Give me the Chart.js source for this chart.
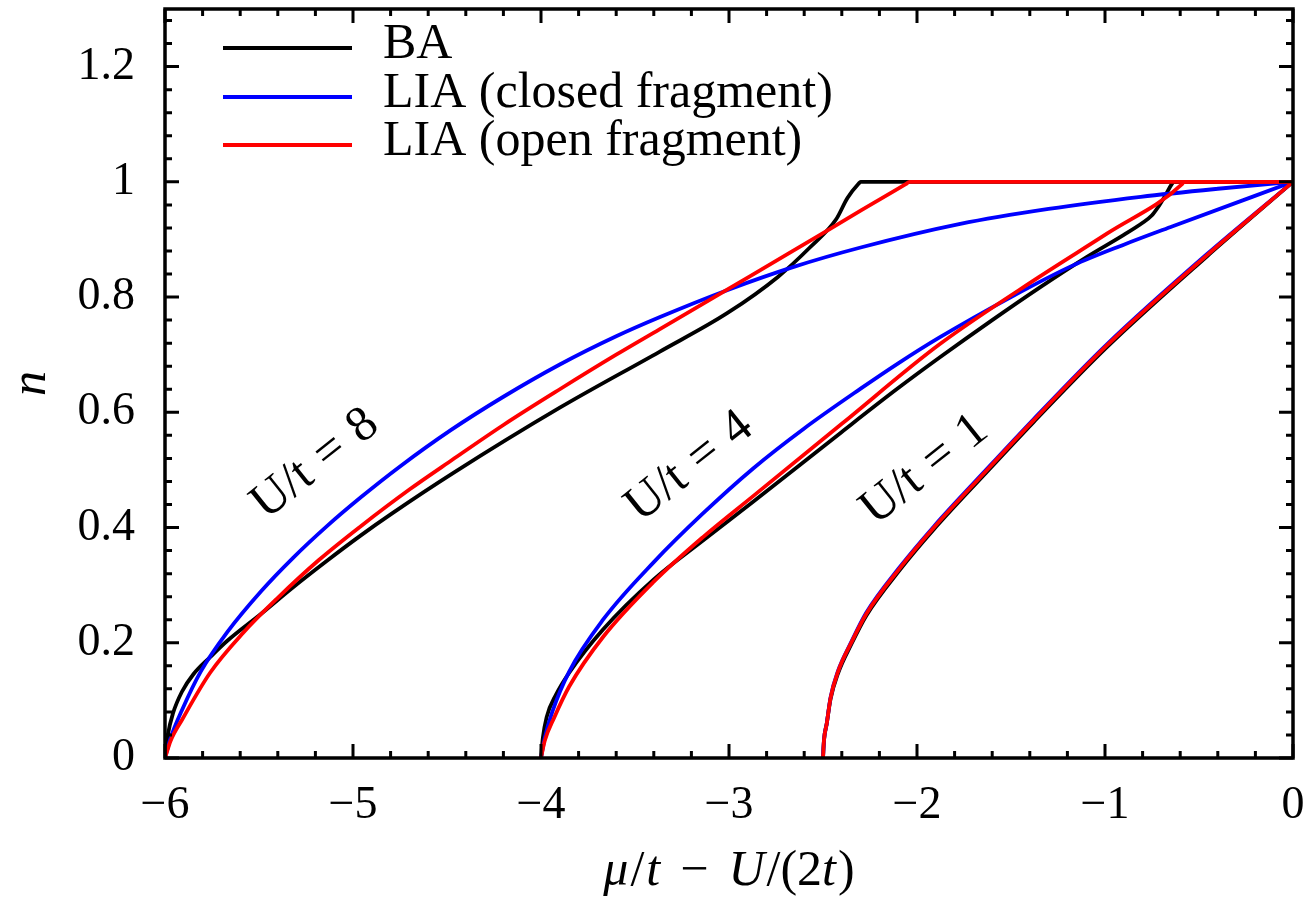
<!DOCTYPE html>
<html>
<head>
<meta charset="utf-8">
<script src="https://cdn.jsdelivr.net/npm/chart.js@4.4.1/dist/chart.umd.min.js"></script>
<style>
html, body { margin: 0; background: #fff; }
#wrap { width: 1306px; height: 903px; }
</style>
</head>
<body>
<div id="wrap"><canvas id="myChart"></canvas></div>
<script>
// curves, [mu/t - U/(2t), n]
var ba8 = [[-6, 0], [-5.985, 0.04], [-5.957, 0.078], [-5.91, 0.115], [-5.85, 0.145], [-5.76, 0.175], [-5.67, 0.203],
  [-5.49, 0.25], [-5.32, 0.296], [-5.14, 0.342], [-4.96, 0.386], [-4.79, 0.425], [-4.47, 0.494], [-3.9, 0.608],
  [-3.37, 0.705], [-3.01, 0.772], [-2.74, 0.835], [-2.57, 0.886], [-2.43, 0.935], [-2.37, 0.972], [-2.31, 0.997],
  [-2.3, 1], [0, 1]];
var closed8 = [[-6, 0], [-5.97, 0.035], [-5.91, 0.083], [-5.81, 0.15], [-5.67, 0.218], [-5.49, 0.289], [-5.32, 0.347],
  [-5.14, 0.402], [-4.96, 0.452], [-4.75, 0.506], [-4.48, 0.569], [-4.2, 0.627], [-3.9, 0.683], [-3.6, 0.732],
  [-3.37, 0.765], [-3.01, 0.812], [-2.66, 0.852], [-2.3, 0.886], [-1.77, 0.927], [-1.3, 0.953], [-0.81, 0.974],
  [-0.4, 0.988], [0, 1]];
var open8 = [[-6, 0], [-5.97, 0.03], [-5.91, 0.066], [-5.76, 0.148], [-5.585, 0.217], [-5.4, 0.278], [-5.18, 0.344],
  [-4.96, 0.402], [-4.7, 0.466], [-4.47, 0.518], [-4.2, 0.578], [-3.9, 0.64], [-3.6, 0.7], [-3.37, 0.744],
  [-3.01, 0.813], [-2.66, 0.88], [-2.3, 0.95], [-2.06, 0.996], [-2.04, 1], [0, 1]];

var ba4 = [[-4, 0], [-3.99, 0.035], [-3.97, 0.071], [-3.92, 0.11], [-3.85, 0.148], [-3.67, 0.223], [-3.4, 0.31],
  [-3.14, 0.377], [-2.87, 0.445], [-2.4, 0.566], [-2.1, 0.642], [-1.88, 0.695], [-1.6, 0.76], [-1.35, 0.816],
  [-1.1, 0.869], [-0.9, 0.908], [-0.8, 0.929], [-0.75, 0.942], [-0.72, 0.955], [-0.68, 0.976], [-0.645, 0.996],
  [-0.635, 1], [0, 1]];
var closed4 = [[-4, 0], [-3.98, 0.035], [-3.94, 0.08], [-3.85, 0.15], [-3.67, 0.24], [-3.4, 0.34], [-3.14, 0.424],
  [-2.87, 0.503], [-2.6, 0.572], [-2.3, 0.641], [-2.1, 0.685], [-1.88, 0.73], [-1.5, 0.8], [-1.17, 0.855],
  [-0.9, 0.891], [-0.64, 0.923], [0, 1]];
var open4 = [[-4, 0], [-3.98, 0.03], [-3.93, 0.07], [-3.85, 0.124], [-3.67, 0.21], [-3.4, 0.306], [-3.14, 0.383],
  [-2.87, 0.455], [-2.4, 0.58], [-1.88, 0.718], [-1.35, 0.835], [-0.99, 0.91], [-0.59, 0.996], [-0.58, 1], [0, 1]];

var ba1 = [[-2.5, 0], [-2.495, 0.03], [-2.48, 0.06], [-2.46, 0.102], [-2.42, 0.147], [-2.35, 0.197], [-2.27, 0.247],
  [-2.09, 0.327], [-1.91, 0.397], [-1.65, 0.489], [-1.38, 0.583], [-0.99, 0.713], [-0.46, 0.87], [0, 1]];
var closed1 = [[-2.5, 0], [-2.495, 0.03], [-2.48, 0.06], [-2.46, 0.105], [-2.42, 0.151], [-2.35, 0.201], [-2.27, 0.252],
  [-2.09, 0.332], [-1.91, 0.402], [-1.65, 0.494], [-1.38, 0.588], [-0.99, 0.718], [-0.46, 0.874], [0, 1]];
var open1 = [[-2.5, 0], [-2.495, 0.03], [-2.48, 0.06], [-2.46, 0.104], [-2.42, 0.15], [-2.35, 0.2], [-2.27, 0.25],
  [-2.09, 0.33], [-1.91, 0.4], [-1.65, 0.492], [-1.38, 0.586], [-0.99, 0.716], [-0.46, 0.872], [0, 1]];

var seriesNames = ['BA', 'LIA (closed fragment)', 'LIA (open fragment)'];
var seriesColors = ['#000000', '#0000ff', '#ff0000'];
var xTicks = [-6, -5, -4, -3, -2, -1, 0];
var yTicks = [0, 0.2, 0.4, 0.6, 0.8, 1, 1.2];
var curveLabels = ['8', '4', '1'];

var serif = "'Liberation Serif', 'DejaVu Serif', serif";

var curves = [
  [0, ba8], [0, ba4], [0, ba1],
  [1, closed8], [1, closed4], [1, closed1],
  [2, open8], [2, open4], [2, open1]
];

var datasets = curves.map(function (c) {
  return {
    label: seriesNames[c[0]],
    data: c[1].map(function (p) { return { x: p[0], y: p[1] }; }),
    borderColor: seriesColors[c[0]],
    backgroundColor: seriesColors[c[0]],
    borderWidth: 3.8,
    pointRadius: 0,
    fill: false,
    cubicInterpolationMode: 'monotone',
    order: 2 - c[0]
  };
});

// inward ticks on all four sides + frame
var frame = {
  id: 'frame',
  afterDatasetsDraw: function (chart) {
    var ctx = chart.ctx, a = chart.chartArea, x = chart.scales.x, y = chart.scales.y;
    ctx.save();
    ctx.strokeStyle = '#000';
    ctx.lineWidth = 3;
    ctx.beginPath();
    for (var i = 0; i <= 30; i++) {
      var px = x.getPixelForValue(-6 + i * 0.2);
      var len = i % 5 === 0 ? 14 : 7;
      ctx.moveTo(px, a.bottom); ctx.lineTo(px, a.bottom - len);
      ctx.moveTo(px, a.top); ctx.lineTo(px, a.top + len);
    }
    for (var j = 0; j <= 32; j++) {
      var py = y.getPixelForValue(j * 0.04);
      if (py < a.top) continue;
      var l2 = j % 5 === 0 ? 14 : 7;
      ctx.moveTo(a.left, py); ctx.lineTo(a.left + l2, py);
      ctx.moveTo(a.right, py); ctx.lineTo(a.right - l2, py);
    }
    ctx.stroke();
    ctx.lineWidth = 3.5;
    ctx.strokeRect(a.left, a.top, a.right - a.left, a.bottom - a.top);
    ctx.restore();
  }
};

function drawPieces(ctx, pieces, cx, cy) {
  var total = 0;
  pieces.forEach(function (p) { ctx.font = p.font; total += ctx.measureText(p.t).width + (p.gap || 0); });
  var xx = cx - total / 2;
  pieces.forEach(function (p) {
    xx += (p.gap || 0);
    ctx.font = p.font;
    ctx.fillText(p.t, xx, cy);
    xx += ctx.measureText(p.t).width;
  });
}

var decor = {
  id: 'decor',
  afterDraw: function (chart) {
    var ctx = chart.ctx, a = chart.chartArea, x = chart.scales.x, y = chart.scales.y;
    ctx.save();
    ctx.fillStyle = '#000';

    // legend
    var rows = [39, 88, 136];
    ctx.font = '50px ' + serif;
    ctx.textBaseline = 'middle';
    for (var i = 0; i < 3; i++) {
      var ly = a.top + rows[i];
      ctx.strokeStyle = seriesColors[i];
      ctx.lineWidth = 3.8;
      ctx.beginPath();
      ctx.moveTo(a.left + 58, ly);
      ctx.lineTo(a.left + 187, ly);
      ctx.stroke();
      ctx.fillText(seriesNames[i], a.left + 218, ly - 3);
    }

    // x axis title
    ctx.textBaseline = 'alphabetic';
    var it = 'italic 50px ' + serif, rm = '50px ' + serif;
    drawPieces(ctx, [
      { t: '\u03bc', font: it }, { t: '/', font: rm, gap: 2 }, { t: 't', font: it, gap: 2 },
      { t: '\u2212', font: rm, gap: 20 }, { t: 'U', font: it, gap: 20 },
      { t: '/(2', font: rm, gap: 2 }, { t: 't', font: it }, { t: ')', font: rm, gap: 2 }
    ], (a.left + a.right) / 2, 885);

    // curve labels
    var anchors = [[-5.2, 0.51], [-3.21, 0.505], [-1.96, 0.5]];
    var lf = '50px ' + serif;
    for (var k = 0; k < 3; k++) {
      ctx.save();
      ctx.translate(x.getPixelForValue(anchors[k][0]), y.getPixelForValue(anchors[k][1]));
      ctx.rotate(-38.5 * Math.PI / 180);
      ctx.textBaseline = 'middle';
      drawPieces(ctx, [
        { t: 'U/t', font: lf }, { t: '=', font: lf, gap: 15 }, { t: curveLabels[k], font: lf, gap: 15 }
      ], 0, 0);
      ctx.restore();
    }
    ctx.restore();
  }
};

function noPad(s) { s.paddingTop = 0; s.paddingBottom = 0; s.paddingLeft = 0; s.paddingRight = 0; }

var ctx = document.getElementById('myChart').getContext('2d');
var myChart = new Chart(ctx, {
  type: 'line',
  data: { datasets: datasets },
  options: {
    responsive: true,
    maintainAspectRatio: false,
    animation: false,
    layout: { padding: { left: 0, right: 13, top: 9, bottom: 0 } },
    plugins: { legend: { display: false }, tooltip: { enabled: false } },
    scales: {
      x: {
        type: 'linear', min: -6, max: 0,
        afterBuildTicks: function (s) { s.ticks = xTicks.map(function (v) { return { value: v }; }); },
        afterFit: function (s) { s.height = 145; noPad(s); },
        grid: { display: false, drawTicks: false },
        border: { display: false },
        ticks: {
          color: '#000', padding: 20, maxRotation: 0, autoSkip: false,
          font: { family: serif, size: 46 },
          callback: function (v) { return v < 0 ? '\u2212' + Math.abs(v) : String(v); }
        }
      },
      y: {
        type: 'linear', min: 0, max: 1.3,
        afterBuildTicks: function (s) { s.ticks = yTicks.map(function (v) { return { value: v }; }); },
        afterFit: function (s) { s.width = 165; noPad(s); },
        grid: { display: false, drawTicks: false },
        border: { display: false },
        ticks: {
          color: '#000', padding: 30, autoSkip: false,
          font: { family: serif, size: 46 },
          callback: function (v) { return String(Math.round(v * 10) / 10); }
        },
        title: {
          display: true, text: 'n', color: '#000',
          font: { family: serif, size: 50, style: 'italic' },
          padding: { top: 2, bottom: 0 }
        }
      }
    }
  },
  plugins: [frame, decor]
});
</script>
</body>
</html>
